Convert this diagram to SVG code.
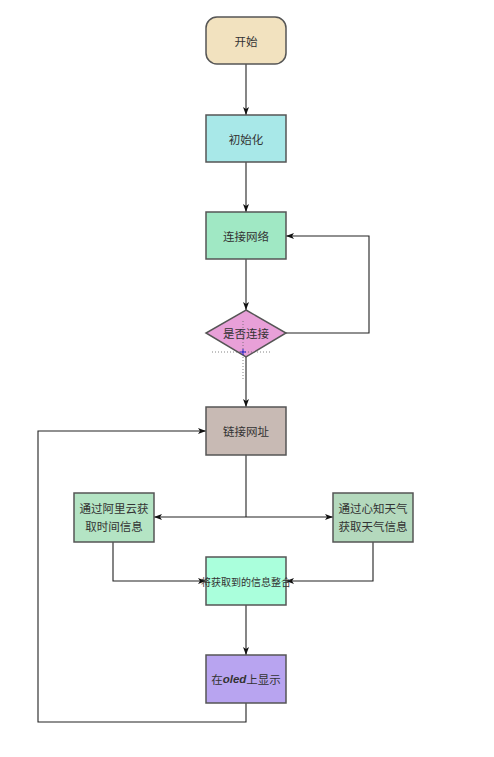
<svg xmlns="http://www.w3.org/2000/svg" width="494" height="757" viewBox="0 0 494 757">
<style>
.n{stroke:#555;stroke-width:1.5}
.t{font-family:"Noto Sans CJK SC","Noto Sans",sans-serif;font-size:11.5px;fill:#333;text-anchor:middle;dominant-baseline:central}
.c{fill:none;stroke:#222;stroke-width:1.1}
.g{fill:none;stroke:#666;stroke-width:0.8;stroke-dasharray:1,2}
</style>
<defs>
<marker id="a" viewBox="0 0 8 6" refX="8" refY="3" markerWidth="8" markerHeight="6" orient="auto" markerUnits="userSpaceOnUse">
<path d="M0,0 L8,3 L0,6 L2,3 Z" fill="#111"/>
</marker>
</defs>
<rect width="494" height="757" fill="#fff"/>
<g id="connectors">
<path class="c" d="M246,64 V115" marker-end="url(#a)"/>
<path class="c" d="M246,162 V212" marker-end="url(#a)"/>
<path class="c" d="M246,259 V310" marker-end="url(#a)"/>
<path class="c" d="M286,333 H369 V236 H286" marker-end="url(#a)"/>
<path class="c" d="M246,357 V407" marker-end="url(#a)"/>
<path class="c" d="M246,455 V517"/>
<path class="c" d="M246,517 H154" marker-end="url(#a)"/>
<path class="c" d="M246,517 H333" marker-end="url(#a)"/>
<path class="c" d="M113,542 V581 H206" marker-end="url(#a)"/>
<path class="c" d="M373,542 V581 H286" marker-end="url(#a)"/>
<path class="c" d="M246,605 V655" marker-end="url(#a)"/>
<path class="c" d="M246,703 V722 H38 V431 H206" marker-end="url(#a)"/>
</g>
<g id="start"><rect class="n" x="206" y="17" width="80" height="47" rx="11" fill="#f2e2bf"/><text class="t" x="246" y="40.5">开始</text></g>
<g id="init"><rect class="n" x="206" y="115" width="80" height="47" fill="#a8e8e8"/><text class="t" x="246" y="138.5">初始化</text></g>
<g id="connect"><rect class="n" x="206" y="212" width="80" height="47" fill="#a0e8c4"/><text class="t" x="246" y="235.5">连接网络</text></g>
<g id="decision"><polygon class="n" points="246,310 286,333 246,357 206,333" fill="#e8a0d8"/><text class="t" x="246" y="333">是否连接</text></g>
<g id="cursor">
<path class="g" d="M243,321 V380"/>
<path class="g" d="M212,352 H271"/>
<path d="M240,352 H246 M243,349 V355" stroke="#22c" stroke-width="1"/>
</g>
<g id="url"><rect class="n" x="206" y="407" width="80" height="48" fill="#c8bab4"/><text class="t" x="246" y="431">链接网址</text></g>
<g id="time"><rect class="n" x="74" y="493" width="80" height="49" fill="#b4e4c4"/><text class="t" x="114" y="508">通过阿里云获</text><text class="t" x="114" y="526">取时间信息</text></g>
<g id="weather"><rect class="n" x="333" y="493" width="80" height="49" fill="#b4d9bd"/><text class="t" x="373" y="508">通过心知天气</text><text class="t" x="373" y="526">获取天气信息</text></g>
<g id="merge"><rect class="n" x="206" y="557" width="80" height="48" fill="#aaffdc"/><text class="t" x="246" y="581" style="font-size:10px">将获取到的信息整合</text></g>
<g id="oled"><rect class="n" x="206" y="655" width="80" height="48" fill="#b8a4f0"/><text class="t" x="246" y="679">在<tspan font-family="Liberation Sans,sans-serif" font-weight="bold" font-style="italic">oled</tspan>上显示</text></g>
</svg>
